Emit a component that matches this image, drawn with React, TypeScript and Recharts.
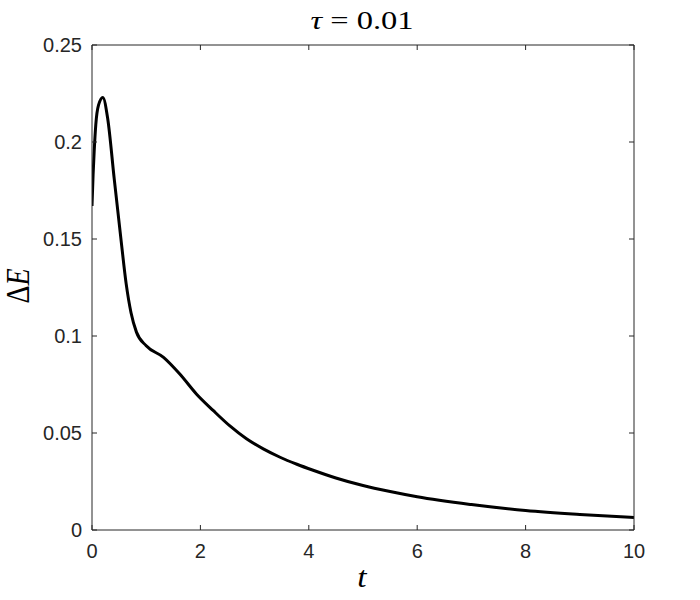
import React from 'react';
import { LineChart, Line, XAxis, YAxis, Customized } from 'recharts';

const tValues = [0, 0.02, 0.04, 0.07, 0.12, 0.2, 0.29, 0.41, 0.53, 0.63, 0.72, 0.82, 1.0, 1.32, 1.62, 1.93, 2.24, 2.55, 2.85, 3.16, 3.47, 3.78, 4.08, 4.5, 5.0, 5.5, 6.0, 7.0, 8.0, 9.0, 10];
const deltaE = [0.167, 0.183, 0.195, 0.209, 0.219, 0.223, 0.212, 0.181, 0.151, 0.127, 0.112, 0.102, 0.095, 0.089, 0.0804, 0.070, 0.0615, 0.0535, 0.047, 0.0418, 0.0375, 0.0339, 0.0308, 0.0268, 0.0229, 0.0198, 0.0171, 0.0131, 0.0100, 0.0080, 0.0065];
const xTicks = [0, 2, 4, 6, 8, 10];
const yTicks = [0, 0.05, 0.1, 0.15, 0.2, 0.25];

const data = tValues.map((t, i) => ({ t, dE: deltaE[i] }));

const AXIS = '#262626';
const TICK_LEN = 5;
const FONT = '"Liberation Sans", Arial, sans-serif';
const LEFT_MARGIN = 10;
const BOTTOM_MARGIN = 14;

const LeftTick = (props: any) => {
  const { x, y, payload } = props;
  return (
    <g>
      <line x1={x + LEFT_MARGIN} x2={x + LEFT_MARGIN + TICK_LEN} y1={y} y2={y} stroke={AXIS} strokeWidth={1} />
      <text x={x} y={y} dy="0.36em" textAnchor="end" fill={AXIS} fontSize={20} fontFamily={FONT}>
        {String(payload.value)}
      </text>
    </g>
  );
};

const BottomTick = (props: any) => {
  const { x, y, payload } = props;
  return (
    <g>
      <line x1={x} x2={x} y1={y - BOTTOM_MARGIN} y2={y - BOTTOM_MARGIN - TICK_LEN} stroke={AXIS} strokeWidth={1} />
      <text x={x} y={y} dy="0.72em" textAnchor="middle" fill={AXIS} fontSize={20} fontFamily={FONT}>
        {String(payload.value)}
      </text>
    </g>
  );
};

const TopTick = (props: any) => {
  const { x, y } = props;
  return <line x1={x} x2={x} y1={y} y2={y + TICK_LEN} stroke={AXIS} strokeWidth={1} />;
};

const RightTick = (props: any) => {
  const { x, y } = props;
  return <line x1={x} x2={x - TICK_LEN} y1={y} y2={y} stroke={AXIS} strokeWidth={1} />;
};

const Labels = () => (
  <g fontFamily='"Liberation Serif", "Times New Roman", serif' fill="#000">
    <text transform="translate(362 29) scale(1.3 1)" x={0} y={0} fontSize={25} textAnchor="middle">
      <tspan fontStyle="italic">τ</tspan>
      <tspan> = 0.01</tspan>
    </text>
    <text transform="translate(362 587) scale(1.15 1)" x={0} y={0} fontSize={29} textAnchor="middle" fontStyle="italic">t</text>
    <text transform="translate(29 286) rotate(-90) scale(1 1.2)" x={0} y={0} fontSize={28} textAnchor="middle">
      <tspan>Δ</tspan>
      <tspan fontStyle="italic">E</tspan>
    </text>
  </g>
);

export default function App() {
  return (
    <div style={{ position: 'absolute', left: 0, top: 0, width: 700, height: 600, background: '#fff' }}>
      <LineChart width={700} height={600} data={data} margin={{ top: 44, right: 65, left: 0, bottom: 0 }}>
        <XAxis
          xAxisId="b"
          dataKey="t"
          type="number"
          domain={[0, 10]}
          ticks={xTicks}
          allowDataOverflow
          height={70}
          tickSize={0}
          tickMargin={BOTTOM_MARGIN}
          tick={<BottomTick />}
          tickLine={false}
          axisLine={{ stroke: AXIS, strokeWidth: 1 }}
        />
        <XAxis
          xAxisId="top"
          orientation="top"
          dataKey="t"
          type="number"
          domain={[0, 10]}
          ticks={xTicks}
          allowDataOverflow
          height={1}
          tickSize={0}
          tickMargin={0}
          tick={<TopTick />}
          tickLine={false}
          axisLine={{ stroke: AXIS, strokeWidth: 1 }}
        />
        <YAxis
          yAxisId="l"
          type="number"
          domain={[0, 0.25]}
          ticks={yTicks}
          allowDataOverflow
          width={92}
          tickSize={0}
          tickMargin={LEFT_MARGIN}
          tick={<LeftTick />}
          tickLine={false}
          axisLine={{ stroke: AXIS, strokeWidth: 1 }}
        />
        <YAxis
          yAxisId="r"
          orientation="right"
          type="number"
          domain={[0, 0.25]}
          ticks={yTicks}
          allowDataOverflow
          width={1}
          tickSize={0}
          tickMargin={0}
          tick={<RightTick />}
          tickLine={false}
          axisLine={{ stroke: AXIS, strokeWidth: 1 }}
        />
        <Line
          xAxisId="b"
          yAxisId="l"
          type="monotone"
          dataKey="dE"
          stroke="#000"
          strokeWidth={3}
          dot={false}
          isAnimationActive={false}
        />
        <Customized component={Labels} />
      </LineChart>
    </div>
  );
}
